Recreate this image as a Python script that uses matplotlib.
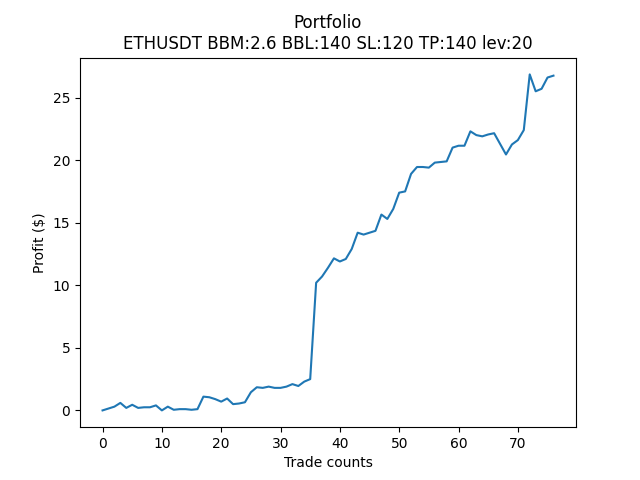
import matplotlib
matplotlib.use("Agg")
import matplotlib.pyplot as plt

# Cumulative profit after each trade
profit = [0.0, 0.15, 0.3, 0.6, 0.2, 0.45, 0.2, 0.25, 0.25, 0.4,
          0.0, 0.3, 0.05, 0.1, 0.1, 0.05, 0.1, 1.1, 1.05, 0.9,
          0.7, 0.95, 0.5, 0.55, 0.65, 1.45, 1.85, 1.8, 1.9, 1.8,
          1.8, 1.9, 2.1, 1.95, 2.3, 2.5, 10.2, 10.7, 11.4, 12.15,
          11.9, 12.1, 12.9, 14.2, 14.05, 14.2, 14.35, 15.65, 15.3, 16.1,
          17.4, 17.5, 18.9, 19.45, 19.45, 19.4, 19.8, 19.85, 19.9, 21.0,
          21.15, 21.15, 22.3, 22.0, 21.9, 22.05, 22.15, 21.3, 20.45, 21.25,
          21.6, 22.4, 26.85, 25.5, 25.7, 26.6, 26.75]

fig, ax = plt.subplots(figsize=(6.4, 4.8), dpi=100)
ax.plot(profit)
ax.set_title("Portfolio\nETHUSDT BBM:2.6 BBL:140 SL:120 TP:140 lev:20")
ax.set_xlabel("Trade counts")
ax.set_ylabel("Profit ($)")
fig.savefig("out.png")
